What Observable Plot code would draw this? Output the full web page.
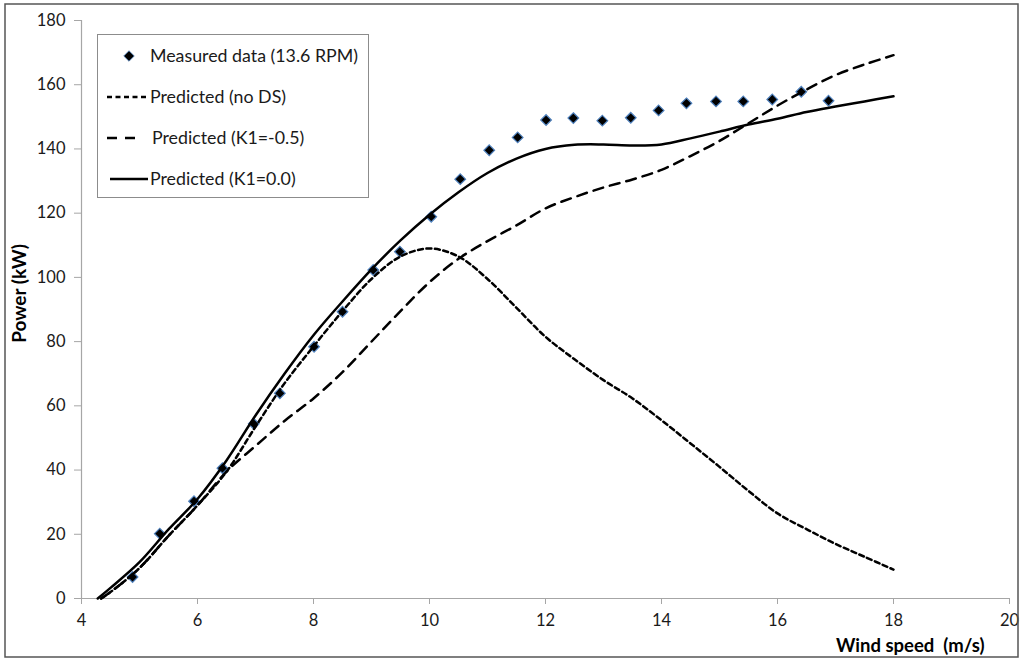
<!DOCTYPE html>
<html><head><meta charset="utf-8">
<script src="https://cdn.jsdelivr.net/npm/d3@7"></script>
<script src="https://cdn.jsdelivr.net/npm/@observablehq/plot@0.6"></script>
<style>
html,body{margin:0;padding:0;background:#fff;}
#wrap{position:relative;width:1024px;height:662px;overflow:hidden;background:#fff;}
#wrap svg{position:absolute;left:0;top:0;}
g[aria-label="x-axis tick"] path, g[aria-label="y-axis tick"] path{stroke:#a6a6a6;}
</style></head><body><div id="wrap"></div>
<script>
// ---- data ----
const xTicks = [4, 6, 8, 10, 12, 14, 16, 18, 20];
const yTicks = [0, 20, 40, 60, 80, 100, 120, 140, 160, 180];
const seriesLabels = ["Measured data (13.6 RPM)", "Predicted (no DS)", "Predicted (K1=-0.5)", "Predicted (K1=0.0)"];
const xTitle = "Wind speed\u00a0 (m/s)";
const yTitle = "Power (kW)";

const measuredX = [4.88, 5.35, 5.94, 6.43, 6.97, 7.42, 8.01, 8.50, 9.03, 9.49, 10.03, 10.53, 11.03, 11.52, 12.01, 12.48, 12.98, 13.47, 13.95, 14.43, 14.94, 15.41, 15.91, 16.41, 16.88];
const measuredY = [6.7, 20.2, 30.3, 40.6, 54.4, 63.9, 78.4, 89.3, 102.3, 108.0, 118.9, 130.6, 139.6, 143.6, 149.0, 149.6, 148.8, 149.7, 152.0, 154.2, 154.8, 154.8, 155.4, 157.8, 155.0];

const noDsX = [4.34, 4.5, 5, 5.5, 6, 6.5, 7, 7.5, 8, 8.5, 9, 9.5, 10, 10.5, 11, 11.5, 12, 12.5, 13, 13.5, 14, 14.5, 15, 15.5, 16, 16.5, 17, 17.5, 18];
const noDsY = [0, 2, 9.5, 19.5, 29, 39.5, 53.5, 67, 78.5, 89.5, 99.5, 106.5, 109, 106.5, 99.5, 90.5, 81.5, 74.5, 68, 62.3, 55.5, 48.3, 41, 33.5, 26.5, 21.6, 17, 13, 9];

const k1NegX = [4.34, 4.5, 5, 5.5, 6, 6.5, 7, 7.5, 8, 8.5, 9, 9.5, 10, 10.5, 11, 11.5, 12, 12.5, 13, 13.5, 14, 14.5, 15, 15.5, 16, 16.5, 17, 17.5, 18];
const k1NegY = [0, 2, 9.5, 19.5, 29, 39.5, 47.5, 55.3, 62.3, 70.5, 80, 89.5, 98.5, 105.8, 111.3, 116.2, 121.5, 125, 128, 130.5, 133.5, 137.8, 142.5, 148, 153.5, 158.5, 163, 166.3, 169.2];

const k1ZeroX = [4.28, 4.5, 5, 5.5, 6, 6.5, 7, 7.5, 8, 8.5, 9, 9.5, 10, 10.5, 11, 11.5, 12, 12.5, 13, 13.5, 14, 14.5, 15, 15.5, 16, 16.5, 17, 17.5, 18];
const k1ZeroY = [0, 3.3, 11.3, 21.5, 31, 43, 57, 70, 82, 92.5, 102.5, 111.5, 119.5, 126.5, 132.5, 137, 140, 141.3, 141.4, 141.1, 141.4, 143.3, 145.4, 147.6, 149.4, 151.5, 153.2, 154.8, 156.4];

// ---- build ----
const rows = (xs, ys) => xs.map((x, i) => ({x, y: ys[i]}));
const FONT = "Lato, 'Open Sans', sans-serif";

const chart = Plot.plot({
  width: 1024, height: 662,
  marginLeft: 81, marginRight: 15, marginTop: 20, marginBottom: 64,
  style: {fontFamily: FONT, fontSize: "16px", color: "#1a1a1a", background: "transparent"},
  x: {domain: [4, 20], ticks: xTicks},
  y: {domain: [0, 180], ticks: yTicks},
  marks: [
    Plot.ruleY([0], {stroke: "#a6a6a6", strokeWidth: 1.2}),
    Plot.ruleX([4], {stroke: "#a6a6a6", strokeWidth: 1.2}),
    Plot.axisX({ticks: xTicks, tickSize: 6, tickPadding: 10, label: null, fontSize: 16.5}),
    Plot.axisY({ticks: yTicks, tickSize: 7, tickPadding: 9, label: null, fontSize: 16.5}),
    Plot.dot(rows(measuredX, measuredY), {x: "x", y: "y", symbol: "diamond2", r: 4.8, fill: "#000", stroke: "#4f81bd", strokeWidth: 1.2}),
    Plot.line(rows(noDsX, noDsY), {x: "x", y: "y", stroke: "#000", strokeWidth: 2.5, strokeDasharray: "5,3.5", curve: "catmull-rom"}),
    Plot.line(rows(k1NegX, k1NegY), {x: "x", y: "y", stroke: "#000", strokeWidth: 2.5, strokeDasharray: "10,7", curve: "catmull-rom"}),
    Plot.line(rows(k1ZeroX, k1ZeroY), {x: "x", y: "y", stroke: "#000", strokeWidth: 2.5, curve: "catmull-rom"}),
    Plot.text([yTitle], {text: d => d, frameAnchor: "left", rotate: -90, textAnchor: "middle", lineAnchor: "middle", dx: -62, dy: -16, fontWeight: "bold", fontSize: 19, fill: "#000"}),
    Plot.text([xTitle], {text: d => d, frameAnchor: "bottom-right", textAnchor: "end", lineAnchor: "middle", dx: -25, dy: 48, fontWeight: "bold", fontSize: 18.5, fill: "#000"})
  ]
});
const wrap = document.getElementById("wrap");
wrap.appendChild(chart);

// ---- legend and outer frame overlay ----
const ov = d3.select(wrap).append("svg").attr("width", 1024).attr("height", 662)
  .style("font-family", FONT).style("pointer-events", "none");
ov.append("rect").attr("x", 5).attr("y", 4).attr("width", 1013).attr("height", 653)
  .attr("fill", "none").attr("stroke", "#555").attr("stroke-width", 1.5);
const lg = ov.append("g");
lg.append("rect").attr("x", 97.5).attr("y", 34.5).attr("width", 271).attr("height", 163)
  .attr("fill", "#fff").attr("stroke", "#8c8c8c").attr("stroke-width", 1);
const rowY = [56, 97, 138, 179];
const textX = [150, 150, 152, 150];
lg.append("path").attr("d", d3.symbol(d3.symbolDiamond2, 70)()).attr("transform", `translate(129,${rowY[0]})`)
  .attr("fill", "#000").attr("stroke", "#4f81bd").attr("stroke-width", 0.8);
lg.append("line").attr("x1", 107).attr("x2", 148).attr("y1", rowY[1]).attr("y2", rowY[1])
  .attr("stroke", "#000").attr("stroke-width", 2.5).attr("stroke-dasharray", "5,3.5");
lg.append("line").attr("x1", 107).attr("x2", 135).attr("y1", rowY[2]).attr("y2", rowY[2])
  .attr("stroke", "#000").attr("stroke-width", 2.5).attr("stroke-dasharray", "10,8");
lg.append("line").attr("x1", 110).attr("x2", 148).attr("y1", rowY[3]).attr("y2", rowY[3])
  .attr("stroke", "#000").attr("stroke-width", 2.5);
seriesLabels.forEach((t, i) => {
  lg.append("text").attr("x", textX[i]).attr("y", rowY[i]).attr("dy", "0.35em")
    .attr("font-size", 17.8).attr("fill", "#1a1a1a").text(t);
});
</script></body></html>
